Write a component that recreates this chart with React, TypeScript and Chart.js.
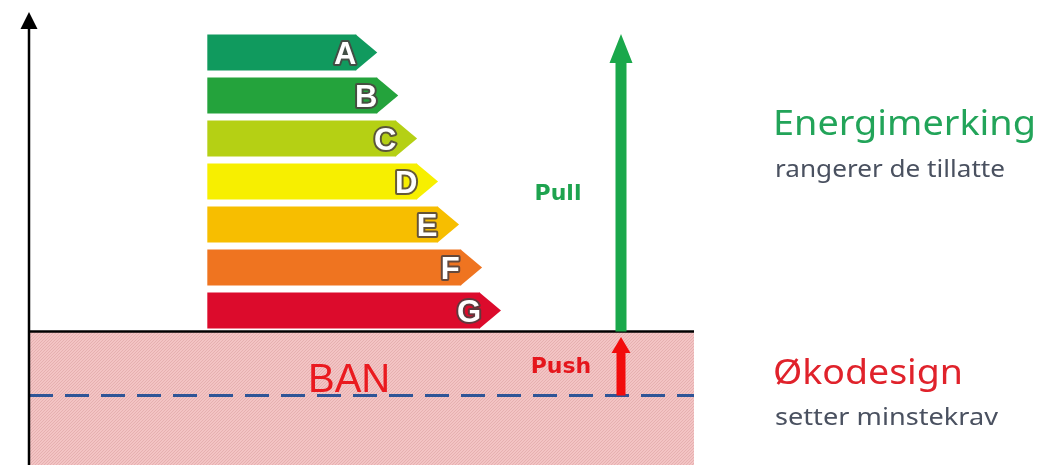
import React, { useEffect, useRef } from "react";
import { Chart, registerables } from "chart.js";

Chart.register(...registerables);

// ---- data ----
const classes = ["A", "B", "C", "D", "E", "F", "G"];
const classLengths = [7.1, 8.1, 9.0, 10.0, 11.0, 12.1, 13.0];
const classColors = ["#109a5e", "#24a33c", "#b5d014", "#f7ef00", "#f7be00", "#ef7420", "#dc0b2c"];
const xRange = [-8.5, 23.2];
const tipLength = 1;

const pullLabel = "Pull";
const pushLabel = "Push";
const banLabel = "BAN";
const energyTitle = "Energimerking";
const energySub = "rangerer de tillatte";
const ecoTitle = "Økodesign";
const ecoSub = "setter minstekrav";

function stretchText(ctx: CanvasRenderingContext2D, text: string, x: number, y: number, font: string, color: string, width: number) {
  ctx.save();
  ctx.font = font;
  ctx.fillStyle = color;
  ctx.textAlign = "left";
  ctx.textBaseline = "alphabetic";
  const w = ctx.measureText(text).width;
  ctx.translate(x, y);
  ctx.scale(width / w, 1);
  ctx.fillText(text, 0, 0);
  ctx.restore();
}

function upArrow(ctx: CanvasRenderingContext2D, cx: number, bottom: number, tip: number, shaftW: number, headW: number, headH: number, color: string) {
  ctx.save();
  ctx.fillStyle = color;
  ctx.beginPath();
  ctx.moveTo(cx - shaftW / 2, bottom);
  ctx.lineTo(cx - shaftW / 2, tip + headH);
  ctx.lineTo(cx - headW / 2, tip + headH);
  ctx.lineTo(cx, tip);
  ctx.lineTo(cx + headW / 2, tip + headH);
  ctx.lineTo(cx + shaftW / 2, tip + headH);
  ctx.lineTo(cx + shaftW / 2, bottom);
  ctx.closePath();
  ctx.fill();
  ctx.restore();
}

const diagramPlugin = {
  id: "diagram",
  beforeDatasetsDraw(chart: any) {
    const { ctx, chartArea: ca, height } = chart;
    ctx.save();
    ctx.beginPath();
    ctx.rect(ca.left, ca.bottom, ca.right - ca.left, height - ca.bottom);
    ctx.clip();
    ctx.fillStyle = "#f3c4c4";
    ctx.fillRect(ca.left, ca.bottom, ca.right - ca.left, height - ca.bottom);
    ctx.strokeStyle = "#e6b0b0";
    ctx.lineWidth = 1;
    const h = height - ca.bottom;
    ctx.beginPath();
    for (let x = ca.left - h - 5; x < ca.right + 5; x += 3) {
      ctx.moveTo(x, height);
      ctx.lineTo(x + h, ca.bottom);
    }
    ctx.stroke();
    ctx.restore();
  },
  afterDatasetsDraw(chart: any) {
    const { ctx, chartArea: ca, height } = chart;
    const xs = chart.scales.x;
    const meta = chart.getDatasetMeta(0);

    // arrow tips and class letters
    meta.data.forEach((bar: any, i: number) => {
      const p = bar.getProps(["x", "y", "height"], true);
      const tipX = xs.getPixelForValue(classLengths[i] + tipLength);
      ctx.save();
      ctx.fillStyle = classColors[i];
      ctx.beginPath();
      ctx.moveTo(p.x - 0.5, p.y - p.height / 2);
      ctx.lineTo(tipX, p.y);
      ctx.lineTo(p.x - 0.5, p.y + p.height / 2);
      ctx.closePath();
      ctx.fill();
      ctx.font = 'bold 31px "Liberation Sans", Arial, sans-serif';
      ctx.textAlign = "center";
      ctx.textBaseline = "alphabetic";
      ctx.lineJoin = "round";
      ctx.lineWidth = 4;
      ctx.strokeStyle = "rgba(75,65,65,0.85)";
      ctx.strokeText(classes[i], p.x - 11, p.y + 11);
      ctx.fillStyle = "#ffffff";
      ctx.fillText(classes[i], p.x - 11, p.y + 11);
      ctx.restore();
    });

    const baseY = ca.bottom - 0.5;
    const minReqY = baseY + 64;

    // dashed minimum requirement line
    ctx.save();
    ctx.strokeStyle = "#2f5597";
    ctx.lineWidth = 3;
    ctx.setLineDash([24, 12]);
    ctx.beginPath();
    ctx.moveTo(ca.left, minReqY);
    ctx.lineTo(ca.right, minReqY);
    ctx.stroke();
    ctx.restore();

    // baseline
    ctx.save();
    ctx.strokeStyle = "#000";
    ctx.lineWidth = 2.5;
    ctx.beginPath();
    ctx.moveTo(ca.left, baseY);
    ctx.lineTo(ca.right, baseY);
    ctx.stroke();
    // vertical axis with arrow
    ctx.beginPath();
    ctx.moveTo(ca.left, height);
    ctx.lineTo(ca.left, 26);
    ctx.stroke();
    ctx.fillStyle = "#000";
    ctx.beginPath();
    ctx.moveTo(ca.left, 12);
    ctx.lineTo(ca.left - 8.5, 29);
    ctx.lineTo(ca.left + 8.5, 29);
    ctx.closePath();
    ctx.fill();
    ctx.restore();

    // arrows
    const arrowX = 621;
    upArrow(ctx, arrowX, baseY, 34, 11, 23, 29, "#1aa84b");
    upArrow(ctx, arrowX, minReqY, 337, 9, 19, 16, "#f20c0c");

    // labels
    ctx.save();
    ctx.textBaseline = "alphabetic";
    ctx.textAlign = "center";
    ctx.font = 'bold 22px "DejaVu Sans", Verdana, sans-serif';
    ctx.fillStyle = "#1ea34f";
    ctx.fillText(pullLabel, 558, 200);
    ctx.fillStyle = "#e5161c";
    ctx.fillText(pushLabel, 561, 373);
    ctx.textAlign = "left";
    ctx.font = '40px "Liberation Sans", Arial, sans-serif';
    ctx.fillStyle = "#ea1a1f";
    ctx.fillText(banLabel, 308, 392);
    ctx.restore();

    const fam = '"Noto Sans", "Open Sans", sans-serif';
    stretchText(ctx, energyTitle, 773, 135, "35px " + fam, "#22a459", 263);
    stretchText(ctx, energySub, 775, 177, "24px " + fam, "#4a5160", 230);
    stretchText(ctx, ecoTitle, 773, 384, "35px " + fam, "#e0222b", 190);
    stretchText(ctx, ecoSub, 775, 425, "24px " + fam, "#4a5160", 223);
  },
};

export default function App() {
  const ref = useRef<HTMLCanvasElement | null>(null);
  useEffect(() => {
    if (!ref.current) return;
    const chart = new Chart(ref.current, {
      type: "bar",
      data: {
        labels: classes,
        datasets: [
          {
            data: classLengths,
            backgroundColor: classColors,
            borderWidth: 0,
            categoryPercentage: 1,
            barPercentage: 0.84,
          },
        ],
      },
      options: {
        indexAxis: "y",
        animation: false,
        responsive: false,
        devicePixelRatio: 1,
        layout: { padding: { left: 29, right: 352, top: 31, bottom: 133 } },
        plugins: { legend: { display: false }, tooltip: { enabled: false }, title: { display: false } },
        scales: {
          x: { type: "linear", min: xRange[0], max: xRange[1], display: false },
          y: { type: "category", display: false },
        },
      },
      plugins: [diagramPlugin],
    });
    return () => chart.destroy();
  }, []);
  return (
    <div style={{ position: "fixed", left: 0, top: 0, width: 1046, height: 465, background: "#fff" }}>
      <canvas ref={ref} width={1046} height={465} />
    </div>
  );
}
